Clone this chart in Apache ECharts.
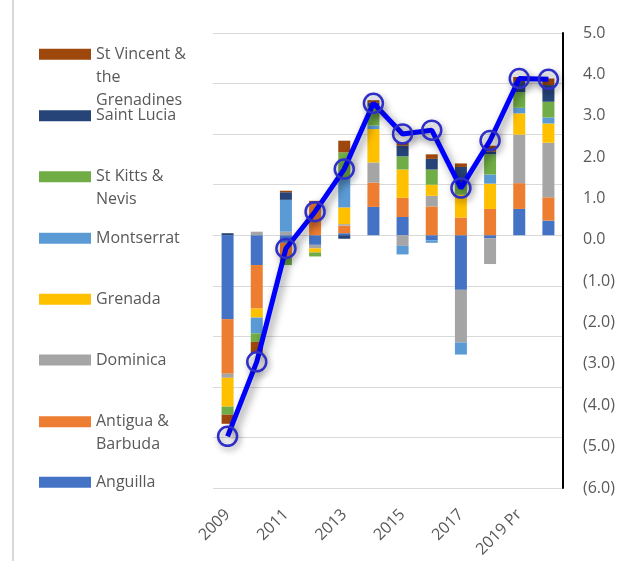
<!DOCTYPE html>
<html><head><meta charset="utf-8">
<script src="https://cdn.jsdelivr.net/npm/echarts@6/dist/echarts.min.js"></script>
<style>html,body{margin:0;padding:0;background:#fff}#c{width:621px;height:561px}</style>
</head><body><div id="c"></div>
<script>
// ---- data ----
const categories = ['2009','2010','2011','2012','2013','2014','2015','2016','2017','2018','2019 Pr','2020 Pr'];
const anguilla   = [-1.66,-0.59,-0.15,-0.19, 0.04, 0.56, 0.36,-0.10,-1.08,-0.06, 0.52, 0.29];
const antigua    = [-1.08,-0.86,-0.30, 0.62, 0.15, 0.48, 0.38, 0.57, 0.35, 0.52, 0.51, 0.46];
const dominica   = [-0.08, 0.07, 0.07,-0.07, 0.03, 0.40,-0.21, 0.21,-1.04,-0.51, 0.96, 1.08];
const grenada    = [-0.57,-0.18, 0.00,-0.08, 0.33, 0.66, 0.56, 0.22, 0.45, 0.50, 0.42, 0.38];
const montserrat = [ 0.00,-0.31, 0.63, 0.00, 0.59, 0.07,-0.17,-0.05,-0.24, 0.18, 0.11, 0.12];
const stKitts    = [-0.16,-0.17,-0.14,-0.08, 0.50, 0.37, 0.26, 0.30, 0.25, 0.40, 0.31, 0.31];
const saintLucia = [ 0.04, 0.00, 0.15, 0.00,-0.07, 0.08, 0.21, 0.21, 0.30, 0.05, 0.20, 0.33];
const stVincent  = [-0.18,-0.22, 0.03, 0.06, 0.23, 0.05, 0.07, 0.09, 0.07, 0.12, 0.10, 0.13];
const total      = [-4.75,-2.95,-0.21, 0.68, 1.71, 3.30, 2.56, 2.65, 1.25, 2.40, 3.90, 3.88];

const barAxisMin = -5, barAxisMax = 4;      // hidden left axis (gridlines)
const lineAxisMin = -6, lineAxisMax = 5;    // right axis

const seriesNames = ['Anguilla','Antigua & Barbuda','Dominica','Grenada','Montserrat','St Kitts & Nevis','Saint Lucia','St Vincent & the Grenadines'];
const seriesData  = [anguilla, antigua, dominica, grenada, montserrat, stKitts, saintLucia, stVincent];
const colors      = ['#4472C4','#ED7D31','#A5A5A5','#FFC000','#5B9BD5','#70AD47','#264478','#9E480E'];

// legend text (wrapped as in reference), listed top to bottom
const legendOrder = ['St Vincent & the Grenadines','Saint Lucia','St Kitts & Nevis','Montserrat','Grenada','Dominica','Antigua & Barbuda','Anguilla'];
const legendLines = {
  'St Vincent & the Grenadines': ['St Vincent &','the','Grenadines'],
  'Saint Lucia': ['Saint Lucia'],
  'St Kitts & Nevis': ['St Kitts &','Nevis'],
  'Montserrat': ['Montserrat'],
  'Grenada': ['Grenada'],
  'Dominica': ['Dominica'],
  'Antigua & Barbuda': ['Antigua &','Barbuda'],
  'Anguilla': ['Anguilla']
};
const legendY = [54.3, 115.7, 176.7, 238.3, 299.3, 360, 421.7, 482.3];

const FONT = "'Open Sans', 'Noto Sans', sans-serif";
const LH = 23;

const legends = legendOrder.map((name, i) => {
  const lines = legendLines[name];
  const pad = lines.length - 1;
  const txt = '\n'.repeat(pad) + lines.join('\n');
  const h = (lines.length + pad) * LH;
  return {
    data: [name], orient: 'vertical', left: 39, top: legendY[i] - h / 2,
    padding: 0, itemWidth: 52, itemHeight: 11, itemGap: 0,
    icon: 'rect',
    formatter: () => txt,
    textStyle: { color: '#595959', fontSize: 16, lineHeight: LH, fontFamily: FONT, padding: [0,0,0,0] }
  };
});

const series = seriesNames.map((n, i) => ({
  name: n, type: 'bar', stack: 'total', data: seriesData[i], barWidth: 12,
  itemStyle: { color: colors[i] }, yAxisIndex: 0
}));
series.push({
  name: 'Total', type: 'line', yAxisIndex: 1, data: total,
  symbol: 'circle', symbolSize: 19, showSymbol: true, z: 10,
  lineStyle: { color: '#0000FF', width: 5, shadowColor: 'rgba(0,0,0,0.45)', shadowBlur: 8, shadowOffsetX: 3, shadowOffsetY: 4 },
  itemStyle: { color: 'rgba(0,0,0,0)', borderColor: '#2E2EC8', borderWidth: 2.5, shadowColor: 'rgba(0,0,0,0.4)', shadowBlur: 6, shadowOffsetX: 2, shadowOffsetY: 3 }
});

const chart = echarts.init(document.getElementById('c'), null, { renderer: 'canvas' });
chart.setOption({
  animation: false,
  backgroundColor: '#fff',
  textStyle: { fontFamily: FONT },
  grid: { left: 213, right: 58, top: 33, bottom: 73 },
  legend: legends,
  graphic: [{ type: 'line', shape: { x1: 13, y1: 0, x2: 13, y2: 561 }, style: { stroke: '#d9d9d9', lineWidth: 2 }, silent: true }],
  xAxis: {
    type: 'category', data: categories,
    axisLine: { show: false }, axisTick: { show: false },
    axisLabel: { interval: 1, rotate: 45, margin: 24, color: '#595959', fontSize: 16, fontFamily: FONT }
  },
  yAxis: [
    { type: 'value', min: barAxisMin, max: barAxisMax, interval: 1, position: 'left',
      axisLabel: { show: false }, axisLine: { show: false }, axisTick: { show: false },
      splitLine: { show: true, lineStyle: { color: '#d9d9d9', width: 1 } } },
    { type: 'value', min: lineAxisMin, max: lineAxisMax, interval: 1, position: 'right',
      axisLine: { show: true, lineStyle: { color: '#000', width: 2 } }, axisTick: { show: false },
      splitLine: { show: false },
      axisLabel: { margin: 20, color: '#595959', fontSize: 16, fontFamily: FONT,
        formatter: v => v < 0 ? '(' + Math.abs(v).toFixed(1) + ')' : v.toFixed(1) } }
  ],
  series: series
});
</script></body></html>
